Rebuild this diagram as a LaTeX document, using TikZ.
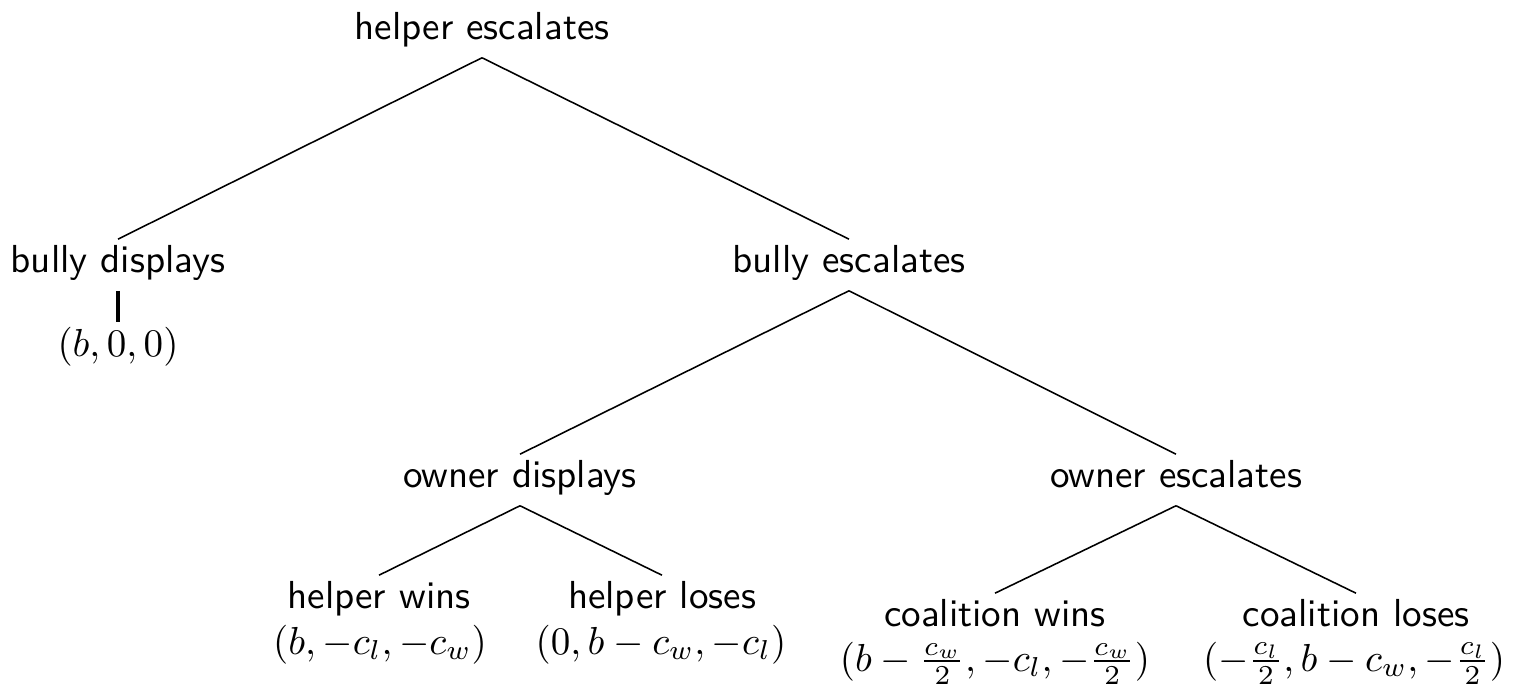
\documentclass[tikz,border=0pt]{standalone}
\begin{document}
\begin{tikzpicture}[x=0.256pt,y=-0.256pt,
  lab/.style={font=\sffamily, inner sep=0pt, text height=8.2pt, text depth=4.6pt, anchor=base},
  pay/.style={inner sep=0pt, text height=8.4pt, text depth=3pt, anchor=base},
  edge/.style={line width=0.4pt},
  stem/.style={line width=1pt}]
\useasboundingbox (0,0) rectangle (1520,684);
\node[lab] (he) at (482,39) {helper escalates};
\node[lab] (bd) at (118,272) {bully displays};
\node[pay] (bdp) at (118,356) {$(b,0,0)$};
\node[lab] (be) at (849,272) {bully escalates};
\node[lab] (od) at (520,487) {owner displays};
\node[lab] (oe) at (1176,487) {owner escalates};
\node[lab] (hw) at (379,608) {helper wins};
\node[pay] (hwp) at (380,654) {$(b,-c_l,-c_w)$};
\node[lab] (hl) at (662,608) {helper loses};
\node[pay] (hlp) at (661,654) {$(0,b-c_w,-c_l)$};
\node[lab] (cw) at (995,626) {coalition wins};
\node[pay] (cwp) at (995,671) {$(b-\frac{c_w}{2},-c_l,-\frac{c_w}{2})$};
\node[lab] (cl) at (1356,626) {coalition loses};
\node[pay] (clp) at (1354,671) {$(-\frac{c_l}{2},b-c_w,-\frac{c_l}{2})$};
\draw[edge] (he.south) -- (bd.north);
\draw[edge] (he.south) -- (be.north);
\draw[stem] (bd.south) -- (bdp.north);
\draw[edge] (be.south) -- (od.north);
\draw[edge] (be.south) -- (oe.north);
\draw[edge] (od.south) -- (hw.north);
\draw[edge] (od.south) -- (hl.north);
\draw[edge] (oe.south) -- (cw.north);
\draw[edge] (oe.south) -- (cl.north);
\end{tikzpicture}
\end{document}
